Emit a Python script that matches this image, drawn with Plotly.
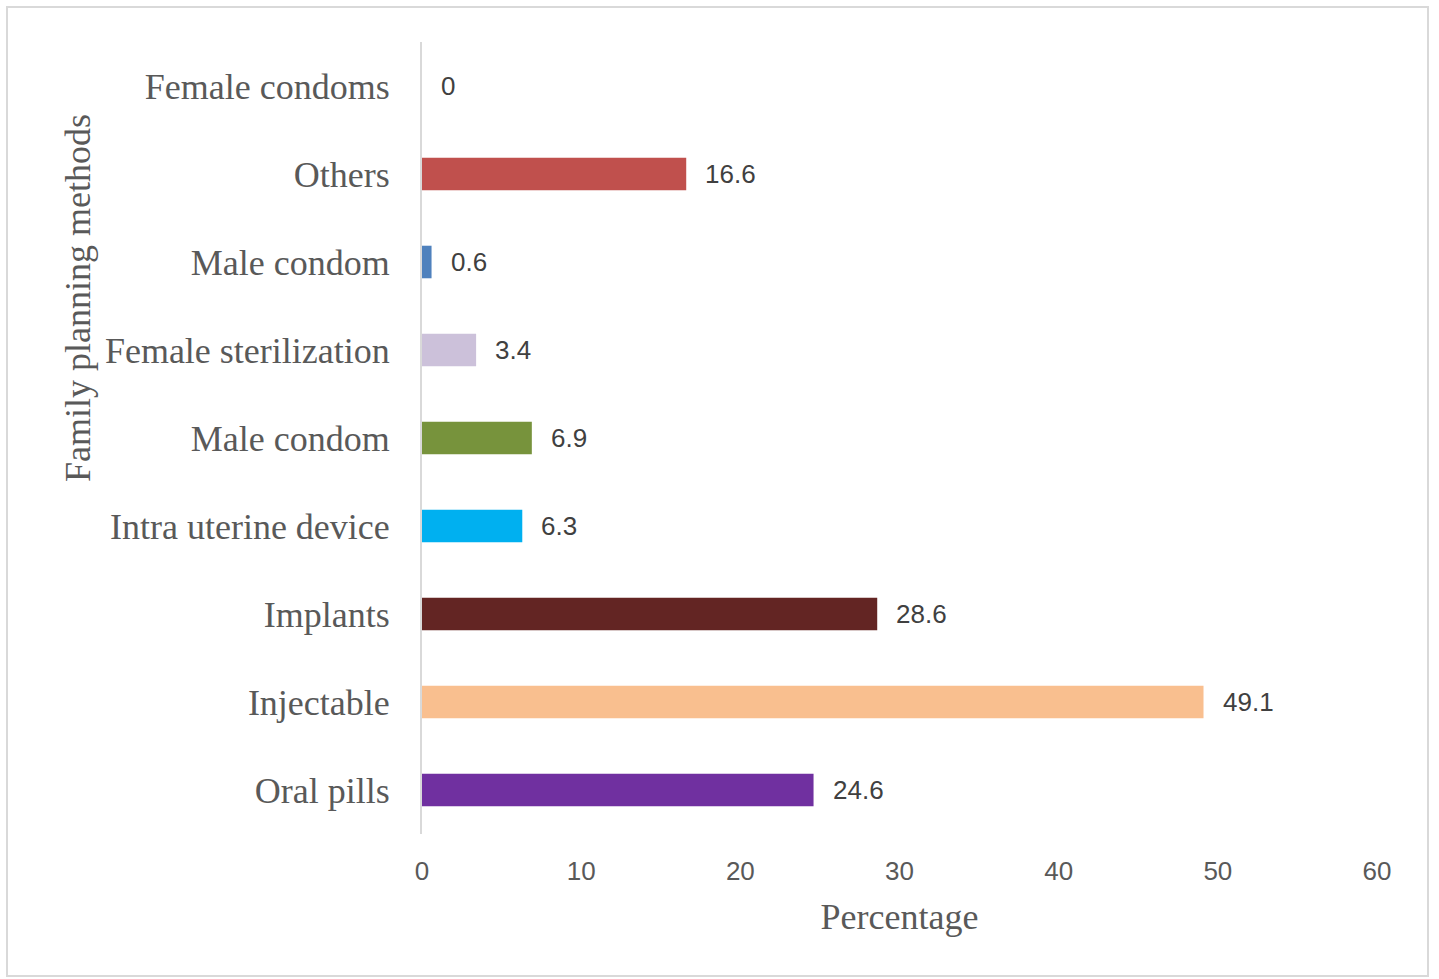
import plotly.graph_objects as go

# Data (bottom to top)
categories = ["Oral pills", "Injectable", "Implants", "Intra uterine device",
              "Male condom", "Female sterilization", "Male condom", "Others",
              "Female condoms"]
values = [24.6, 49.1, 28.6, 6.3, 6.9, 3.4, 0.6, 16.6, 0]
labels = ["24.6", "49.1", "28.6", "6.3", "6.9", "3.4", "0.6", "16.6", "0"]
colors = ["#7030A0", "#F9BF8F", "#632523", "#00B0F0", "#77933C",
          "#CCC1DA", "#4F81BD", "#C0504D", "#808080"]
x_ticks = [0, 10, 20, 30, 40, 50, 60]

positions = list(range(len(categories)))

W, H = 1439, 979
L, R, T, B = 422, 62, 42, 145
pw, ph = W - L - R, H - T - B

fig = go.Figure()
fig.add_trace(go.Bar(
    x=values, y=positions, orientation="h",
    marker=dict(color=colors, line=dict(width=0)),
    width=0.37, showlegend=False, hoverinfo="x+y",
))

for v, p, t in zip(values, positions, labels):
    fig.add_annotation(x=v, y=p, text=t, showarrow=False, xanchor="left",
                       yanchor="middle", xshift=17,
                       font=dict(family="Liberation Sans", size=26, color="#404040"))

serif = "Liberation Serif"
gray = "#595959"

def px_to_paper_x(px):
    return (px - L) / pw

def py_to_paper_y(py):
    return (H - B - py) / ph

# outer frame
fig.add_shape(type="rect", xref="paper", yref="paper",
              x0=px_to_paper_x(7), x1=px_to_paper_x(1428),
              y0=py_to_paper_y(976), y1=py_to_paper_y(7),
              line=dict(color="#D9D9D9", width=2), fillcolor="rgba(0,0,0,0)",
              layer="below")

# y axis title
fig.add_annotation(xref="paper", yref="paper",
                   x=px_to_paper_x(78), y=py_to_paper_y(298),
                   text="Family planning methods", textangle=-90,
                   showarrow=False, xanchor="center", yanchor="middle",
                   font=dict(family=serif, size=36, color=gray))

fig.update_layout(
    width=W, height=H,
    margin=dict(l=L, r=R, t=T, b=B, autoexpand=False),
    paper_bgcolor="white", plot_bgcolor="white",
    xaxis=dict(range=[0, 60], tickvals=x_ticks, ticktext=[str(v) for v in x_ticks],
               showgrid=False, zeroline=False, showline=False,
               ticks="", ticklabelstandoff=19,
               tickfont=dict(family="Liberation Sans", size=26, color=gray),
               title=dict(text="Percentage", standoff=18,
                          font=dict(family=serif, size=36, color=gray))),
    yaxis=dict(range=[-0.5, 8.5], tickvals=positions, ticktext=categories,
               showgrid=False, zeroline=False, showline=True,
               linecolor="#D9D9D9", linewidth=2, ticks="",
               ticklabelstandoff=23,
               tickfont=dict(family=serif, size=36, color=gray)),
)

fig.write_html("out.html")
